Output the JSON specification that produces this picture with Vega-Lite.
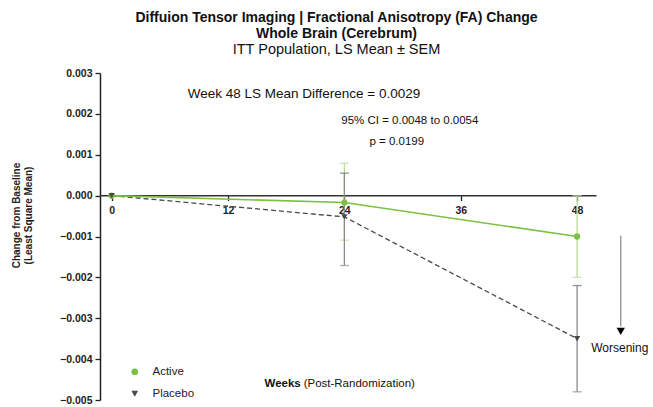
{
  "$schema": "https://vega.github.io/schema/vega-lite/v6.json",
  "width": 545,
  "height": 327,
  "autosize": {"type": "none"},
  "padding": {"left": 100, "top": 73, "right": 8, "bottom": 7},
  "background": "white",
  "config": {
    "font": "Liberation Sans",
    "view": {"stroke": null},
    "axis": {"grid": false, "domainColor": "#222", "tickColor": "#222", "labelColor": "#222", "titleColor": "#222"}
  },
  "title": {
    "text": ["Diffuion Tensor Imaging | Fractional Anisotropy (FA) Change", "Whole Brain (Cerebrum)"],
    "subtitle": "ITT Population, LS Mean ± SEM",
    "fontSize": 14,
    "fontWeight": "bold",
    "lineHeight": 16,
    "subtitleFontSize": 14.5,
    "subtitleColor": "#111",
    "subtitlePadding": 2,
    "color": "#111",
    "anchor": "middle",
    "dx": -36,
    "offset": 12
  },
  "datasets": {
    "series": [
      {"group": "Active", "week": 0, "value": 0, "lo": 0, "hi": 0},
      {"group": "Active", "week": 24, "value": -0.00017, "lo": -0.00109, "hi": 0.00079},
      {"group": "Active", "week": 48, "value": -0.001, "lo": -0.002, "hi": 0.0},
      {"group": "Placebo", "week": 0, "value": 0, "lo": 0, "hi": 0},
      {"group": "Placebo", "week": 24, "value": -0.00052, "lo": -0.00171, "hi": 0.00055},
      {"group": "Placebo", "week": 48, "value": -0.0035, "lo": -0.0048, "hi": -0.0022}
    ]
  },
  "layer": [
    {
      "data": {"values": [{"week": -1.2, "week2": 50, "value": 0}]},
      "mark": {"type": "rule", "color": "#333", "strokeWidth": 1.5},
      "encoding": {
        "x": {"field": "week", "type": "quantitative", "scale": {"domain": [-1.2, 55], "nice": false, "zero": false},
              "axis": {"values": [0, 12, 24, 36, 48], "domain": false, "offset": -204.4, "title": null, "labelFontWeight": "bold", "labelFontSize": 10.5, "tickSize": 5, "labelPadding": 5, "tickWidth": 1.3}},
        "x2": {"field": "week2"},
        "y": {"field": "value", "type": "quantitative", "scale": {"domain": [-0.005, 0.003], "nice": false},
              "axis": {"values": [-0.005, -0.004, -0.003, -0.002, -0.001, 0, 0.001, 0.002, 0.003], "format": ".3f", "labelFontWeight": "bold", "labelFontSize": 10.5, "tickSize": 5, "domainWidth": 1.5, "tickWidth": 1.3, "labelPadding": 3,
                       "title": ["Change from Baseline", "(Least Square Mean)"], "titleFontSize": 10, "titleFontWeight": "bold", "titlePadding": 26, "titleLineHeight": 12, "titleY": 142}}
      }
    },
    {
      "data": {"name": "series"},
      "transform": [{"filter": "datum.week > 0 && datum.group == 'Active'"}],
      "layer": [
        {"mark": {"type": "rule", "strokeWidth": 1.3, "color": "#b9dc95"},
         "encoding": {"x": {"field": "week", "type": "quantitative"}, "y": {"field": "lo", "type": "quantitative"}, "y2": {"field": "hi"}}},
        {"mark": {"type": "tick", "orient": "horizontal", "size": 9, "thickness": 1.3, "color": "#b9dc95"},
         "encoding": {"x": {"field": "week", "type": "quantitative"}, "y": {"field": "lo", "type": "quantitative"}}},
        {"mark": {"type": "tick", "orient": "horizontal", "size": 9, "thickness": 1.3, "color": "#b9dc95"},
         "encoding": {"x": {"field": "week", "type": "quantitative"}, "y": {"field": "hi", "type": "quantitative"}}}
      ]
    },
    {
      "data": {"name": "series"},
      "transform": [{"filter": "datum.week > 0 && datum.group == 'Placebo'"}],
      "layer": [
        {"mark": {"type": "rule", "strokeWidth": 1.3, "color": "#8a8a8a"},
         "encoding": {"x": {"field": "week", "type": "quantitative"}, "y": {"field": "lo", "type": "quantitative"}, "y2": {"field": "hi"}}},
        {"mark": {"type": "tick", "orient": "horizontal", "size": 9, "thickness": 1.3, "color": "#8a8a8a"},
         "encoding": {"x": {"field": "week", "type": "quantitative"}, "y": {"field": "lo", "type": "quantitative"}}},
        {"mark": {"type": "tick", "orient": "horizontal", "size": 9, "thickness": 1.3, "color": "#666"},
         "encoding": {"x": {"field": "week", "type": "quantitative"}, "y": {"field": "hi", "type": "quantitative"}}}
      ]
    },
    {
      "data": {"name": "series"},
      "transform": [{"filter": "datum.group == 'Placebo'"}],
      "mark": {"type": "line", "color": "#4a4a4a", "strokeDash": [5, 3], "strokeWidth": 1.3},
      "encoding": {
        "x": {"field": "week", "type": "quantitative"},
        "y": {"field": "value", "type": "quantitative"}
      }
    },
    {
      "data": {"name": "series"},
      "transform": [{"filter": "datum.group == 'Active'"}],
      "mark": {"type": "line", "color": "#7cc242", "strokeWidth": 1.6},
      "encoding": {
        "x": {"field": "week", "type": "quantitative"},
        "y": {"field": "value", "type": "quantitative"}
      }
    },
    {
      "data": {"name": "series"},
      "mark": {"type": "point", "filled": true, "size": 40, "opacity": 1},
      "encoding": {
        "x": {"field": "week", "type": "quantitative"},
        "y": {"field": "value", "type": "quantitative"},
        "color": {"field": "group", "type": "nominal", "scale": {"domain": ["Active", "Placebo"], "range": ["#7cc242", "#4a4a4a"]},
                  "legend": {"title": null, "orient": "none", "legendX": 29, "legendY": 293, "labelFontSize": 11.5, "labelColor": "#222", "rowPadding": 9, "symbolSize": 45, "labelOffset": 12}},
        "shape": {"field": "group", "type": "nominal", "scale": {"domain": ["Active", "Placebo"], "range": ["circle", "triangle-down"]}}
      }
    },
    {
      "data": {"values": [{"week": 52.5, "top": -0.00098, "bottom": -0.0032}]},
      "mark": {"type": "rule", "color": "#888", "strokeWidth": 1.2},
      "encoding": {
        "x": {"field": "week", "type": "quantitative"},
        "y": {"field": "top", "type": "quantitative"},
        "y2": {"field": "bottom"}
      }
    },
    {
      "data": {"values": [{"week": 52.5, "value": -0.00332}]},
      "mark": {"type": "point", "shape": "triangle-down", "filled": true, "color": "#000", "size": 70, "opacity": 1},
      "encoding": {
        "x": {"field": "week", "type": "quantitative"},
        "y": {"field": "value", "type": "quantitative"}
      }
    },
    {
      "data": {"values": [
        {"week": 52.4, "value": -0.00372, "label": "Worsening", "size": 12},
        {"week": 30.75, "value": 0.00183, "label": "95% CI = 0.0048 to 0.0054", "size": 11.5},
        {"week": 29.4, "value": 0.00131, "label": "p = 0.0199", "size": 11.5}
      ]},
      "mark": {"type": "text", "color": "#111", "baseline": "middle", "align": "center"},
      "encoding": {
        "x": {"field": "week", "type": "quantitative"},
        "y": {"field": "value", "type": "quantitative"},
        "text": {"field": "label"},
        "size": {"field": "size", "type": "quantitative", "scale": null}
      }
    },
    {
      "data": {"values": [
        {"week": 7.84, "value": 0.00249, "label": "Week 48 LS Mean Difference = 0.0029", "size": 13.5},
        {"week": 19.8, "value": -0.00461, "label": "(Post-Randomization)", "size": 11.5}
      ]},
      "mark": {"type": "text", "color": "#111", "baseline": "middle", "align": "left"},
      "encoding": {
        "x": {"field": "week", "type": "quantitative"},
        "y": {"field": "value", "type": "quantitative"},
        "text": {"field": "label"},
        "size": {"field": "size", "type": "quantitative", "scale": null}
      }
    },
    {
      "data": {"values": [
        {"week": 19.5, "value": -0.00461, "label": "Weeks"}
      ]},
      "mark": {"type": "text", "color": "#111", "baseline": "middle", "align": "right", "fontWeight": "bold", "fontSize": 11.5},
      "encoding": {
        "x": {"field": "week", "type": "quantitative"},
        "y": {"field": "value", "type": "quantitative"},
        "text": {"field": "label"}
      }
    }
  ]
}
